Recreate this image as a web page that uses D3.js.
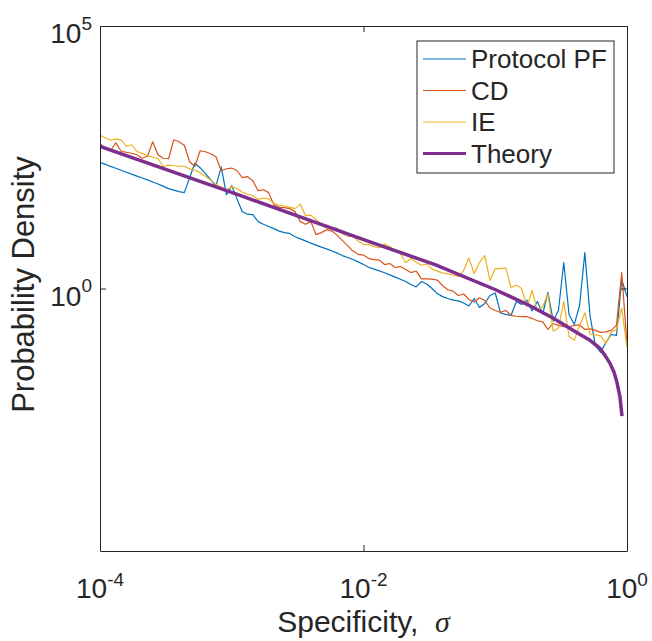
<!DOCTYPE html>
<html>
<head>
<meta charset="utf-8">
<script src="https://cdn.jsdelivr.net/npm/d3@7"></script>
<style>
  body { margin: 0; background: #fff; }
  text { font-family: "Liberation Sans", Arial, Helvetica, sans-serif; fill: #262626; }
  .axis path, .axis line { stroke: #262626; stroke-width: 1; }
</style>
</head>
<body>
<div id="chart"></div>
<script>
// histogram bin positions (sigma), 25 per decade
var sigma = [
  1.000e-4, 1.096e-4, 1.202e-4, 1.318e-4, 1.445e-4, 1.585e-4, 1.738e-4, 1.905e-4, 2.089e-4, 2.291e-4,
  2.512e-4, 2.754e-4, 3.020e-4, 3.311e-4, 3.631e-4, 3.981e-4, 4.365e-4, 4.786e-4, 5.248e-4, 5.754e-4,
  6.310e-4, 6.918e-4, 7.586e-4, 8.318e-4, 9.120e-4,
  1.000e-3, 1.096e-3, 1.202e-3, 1.318e-3, 1.445e-3, 1.585e-3, 1.738e-3, 1.905e-3, 2.089e-3, 2.291e-3,
  2.512e-3, 2.754e-3, 3.020e-3, 3.311e-3, 3.631e-3, 3.981e-3, 4.365e-3, 4.786e-3, 5.248e-3, 5.754e-3,
  6.310e-3, 6.918e-3, 7.586e-3, 8.318e-3, 9.120e-3,
  1.000e-2, 1.096e-2, 1.202e-2, 1.318e-2, 1.445e-2, 1.585e-2, 1.738e-2, 1.905e-2, 2.089e-2, 2.291e-2,
  2.512e-2, 2.754e-2, 3.020e-2, 3.311e-2, 3.631e-2, 3.981e-2, 4.365e-2, 4.786e-2, 5.248e-2, 5.754e-2,
  6.310e-2, 6.918e-2, 7.586e-2, 8.318e-2, 9.120e-2,
  1.000e-1, 1.096e-1, 1.202e-1, 1.318e-1, 1.445e-1, 1.585e-1, 1.738e-1, 1.905e-1, 2.089e-1, 2.291e-1,
  2.512e-1, 2.754e-1, 3.020e-1, 3.311e-1, 3.631e-1, 3.981e-1, 4.365e-1, 4.786e-1, 5.248e-1, 5.754e-1,
  6.310e-1, 6.918e-1, 7.586e-1, 8.318e-1, 9.120e-1,
  1.000
];

var pfDensity = [
  252, 232, 212, 195, 179, 164, 151, 138, 127, 117,
  107, 98, 89, 80, 75, 70, 67, 129, 243, 200,
  154, 118, 89, 208, 61, 91, 51, 29, 26, 25.5,
  18.8, 16.7, 15.2, 13.8, 12.4, 11.6, 11.2, 9.7, 8.8, 8.07,
  7.3, 6.7, 6.15, 5.69, 5.19, 4.73, 4.24, 3.90, 3.57, 3.21,
  2.86, 2.54, 2.34, 2.17, 2.00, 1.82, 1.65, 1.50, 1.36, 1.19,
  1.07, 1.36, 1.22, 1.00, 0.80, 0.70, 0.645, 0.60, 0.58, 0.53,
  0.465, 0.645, 0.435, 0.52, 0.735, 0.82, 0.342, 0.321, 0.307, 0.566,
  0.496, 0.60, 0.373, 0.566, 0.327, 0.84, 0.241, 0.39, 3.12, 0.321,
  0.207, 0.475, 4.83, 0.294, 0.0825, 0.0607, 0.094, 0.133, 0.128, 1.48,
  0.70
];

var cdDensity = [
  571, 480, 421, 597, 411, 394, 377, 353, 303, 330,
  624, 353, 303, 296, 680, 624, 535, 260, 211, 421,
  402, 369, 323, 175, 191, 197, 175, 129, 135, 113,
  73, 76, 67, 39.5, 35.1, 34.7, 33.2, 29.1, 18.8, 16.8,
  18.8, 10.6, 11.6, 13.2, 12.4, 10.4, 8.18, 6.57, 5.16, 4.47,
  4.33, 3.72, 3.56, 3.48, 2.86, 2.99, 2.51, 2.62, 2.30, 2.01,
  2.15, 1.53, 1.53, 1.51, 1.44, 1.14, 0.945, 0.89, 0.735, 0.786,
  0.618, 0.554, 0.665, 0.591, 0.426, 0.382, 0.350, 0.382, 0.307, 0.296,
  0.290, 0.290, 0.269, 0.243, 0.231, 0.166, 0.216, 0.198, 0.187, 0.187,
  0.198, 0.202, 0.166, 0.170, 0.159, 0.146, 0.149, 0.159, 0.198, 2.01,
  0.086
];

var ieDensity = [
  828, 743, 666, 702, 680, 512, 547, 407, 375, 338,
  319, 296, 211, 224, 218, 214, 213, 190, 179, 160,
  138, 116, 97, 86, 76, 87, 80, 68, 63, 59,
  50, 53, 51, 42, 38.4, 37.3, 35.4, 33.2, 40.4, 24.4,
  25, 20.5, 16, 14.3, 14.3, 14.1, 11.1, 9.87, 9.87, 8.0,
  6.87, 6.87, 6.29, 5.97, 7.05, 6.23, 5.28, 4.67, 3.12, 3.72,
  3.15, 2.77, 2.94, 2.36, 2.14, 1.98, 1.90, 1.81, 1.68, 2.20,
  3.80, 1.93, 3.12, 4.24, 1.42, 2.40, 2.40, 2.48, 1.03, 1.17,
  1.00, 0.455, 0.916, 0.370, 0.455, 0.786, 0.154, 0.177, 0.566, 0.122,
  0.103, 0.198, 0.342, 0.133, 0.131, 0.125, 0.090, 0.146, 0.166, 0.426,
  0.0755
];

var theorySigma = [1e-4, 1.06e-3, 0.0112, 0.0349, 0.0995, 0.18, 0.27, 0.44, 0.524, 0.624, 0.681, 0.743, 0.797, 0.839, 0.885, 0.916];
var theoryDensity = [507, 64, 7.7, 2.86, 0.957, 0.48, 0.281, 0.133, 0.103, 0.0723, 0.0532, 0.0375, 0.0253, 0.0163, 0.0085, 0.0037];

var seriesNames = ["Protocol PF", "CD", "IE", "Theory"];
var seriesColors = ["#0072BD", "#D95319", "#EDB120", "#7E2F8E"];

var xTicks = [1e-4, 1e-2, 1];
var xTickExp = ["-4", "-2", "0"];
var yTicks = [1, 1e5];
var yTickExp = ["0", "5"];

var width = 652, height = 641;
var plot = {left: 100, right: 627, top: 26, bottom: 551};

var x = d3.scaleLog().domain([1e-4, 1]).range([plot.left, plot.right]);
var y = d3.scaleLog().domain([1e-5, 1e5]).range([plot.bottom, plot.top]);

var svg = d3.select("#chart").append("svg")
    .attr("width", width)
    .attr("height", height);

svg.append("clipPath").attr("id", "clip")
  .append("rect")
    .attr("x", plot.left).attr("y", plot.top)
    .attr("width", plot.right - plot.left)
    .attr("height", plot.bottom - plot.top);

var line = d3.line()
    .x(function(d) { return x(d[0]); })
    .y(function(d) { return y(d[1]); });

var lines = svg.append("g").attr("clip-path", "url(#clip)");

[pfDensity, cdDensity, ieDensity].forEach(function(vals, i) {
  lines.append("path")
      .attr("fill", "none")
      .attr("stroke", seriesColors[i])
      .attr("stroke-width", 1.2)
      .attr("stroke-linejoin", "round")
      .attr("d", line(sigma.map(function(s, j) { return [s, vals[j]]; })));
});

lines.append("path")
    .attr("fill", "none")
    .attr("stroke", seriesColors[3])
    .attr("stroke-width", 3.5)
    .attr("stroke-linejoin", "round")
    .attr("d", line(theorySigma.map(function(s, j) { return [s, theoryDensity[j]]; })));

// axes: ticks point inward, box on all sides
svg.append("g").attr("class", "axis")
    .attr("transform", "translate(0," + plot.bottom + ")")
    .call(d3.axisBottom(x).tickValues(xTicks).tickSize(-6).tickSizeOuter(0).tickFormat(""));
svg.append("g").attr("class", "axis")
    .attr("transform", "translate(0," + plot.top + ")")
    .call(d3.axisTop(x).tickValues(xTicks).tickSize(-6).tickSizeOuter(0).tickFormat(""));
svg.append("g").attr("class", "axis")
    .attr("transform", "translate(" + plot.left + ",0)")
    .call(d3.axisLeft(y).tickValues(yTicks).tickSize(-6).tickSizeOuter(0).tickFormat(""));
svg.append("g").attr("class", "axis")
    .attr("transform", "translate(" + plot.right + ",0)")
    .call(d3.axisRight(y).tickValues(yTicks).tickSize(-6).tickSizeOuter(0).tickFormat(""));

// tick labels as 10^n
xTicks.forEach(function(t, i) {
  var txt = svg.append("text")
      .attr("x", x(t))
      .attr("y", 598)
      .attr("text-anchor", "middle")
      .style("font-size", "28px");
  txt.append("tspan").text("10");
  txt.append("tspan").attr("dy", -12).style("font-size", "19px").text(xTickExp[i]);
});

yTicks.forEach(function(t, i) {
  var txt = svg.append("text")
      .attr("x", plot.left - 8)
      .attr("y", y(t) + 17)
      .attr("text-anchor", "end")
      .style("font-size", "28px");
  txt.append("tspan").text("10");
  txt.append("tspan").attr("dy", -13.5).style("font-size", "19px").text(yTickExp[i]);
});

// axis titles
var xt = svg.append("text")
    .attr("x", (plot.left + plot.right) / 2)
    .attr("y", 632)
    .attr("text-anchor", "middle")
    .style("font-size", "30px");
xt.append("tspan").text("Specificity,\u00a0\u00a0");
xt.append("tspan").style("font-family", "'Liberation Serif', 'DejaVu Serif', serif").style("font-style", "italic").text("\u03c3");

svg.append("text")
    .attr("transform", "translate(34," + ((plot.top + plot.bottom) / 2 - 4) + ") rotate(-90)")
    .attr("text-anchor", "middle")
    .style("font-size", "31px")
    .text("Probability Density");

// legend
var legend = svg.append("g").attr("transform", "translate(417,41)");
legend.append("rect")
    .attr("width", 197).attr("height", 132)
    .attr("fill", "#fff")
    .attr("stroke", "#262626")
    .attr("stroke-width", 1);

seriesNames.forEach(function(name, i) {
  var ly = 18 + i * 31.5;
  legend.append("line")
      .attr("x1", 6).attr("x2", 49)
      .attr("y1", ly).attr("y2", ly)
      .attr("stroke", seriesColors[i])
      .attr("stroke-width", i == 3 ? 3 : 1.2);
  legend.append("text")
      .attr("x", 54).attr("y", ly + 9)
      .style("font-size", "26px")
      .text(name);
});
</script>
</body>
</html>
